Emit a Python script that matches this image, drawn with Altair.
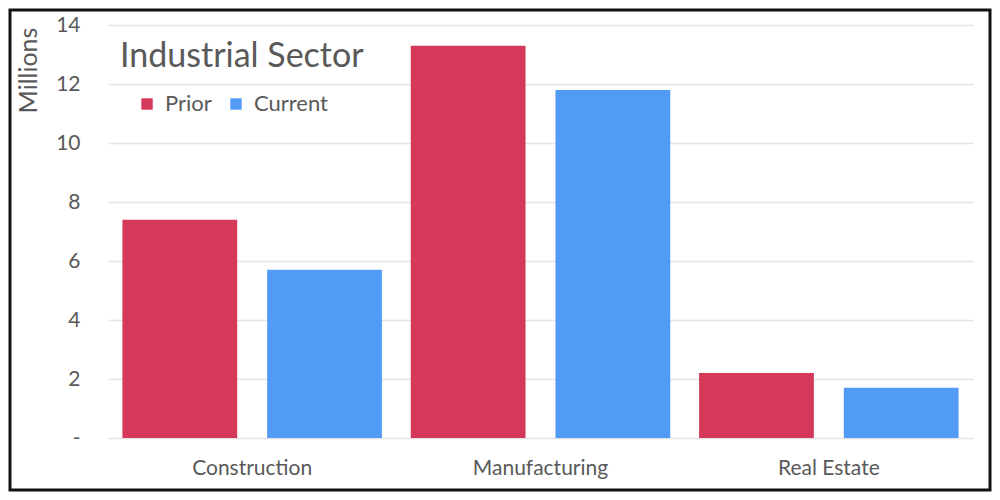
import altair as alt
import pandas as pd

categories = ["Construction", "Manufacturing", "Real Estate"]
series = ["Prior", "Current"]
prior = [7.4, 13.3, 2.2]
current = [5.7, 11.8, 1.7]
y_ticks = [0, 2, 4, 6, 8, 10, 12, 14]

rows = []
for c, p, q in zip(categories, prior, current):
    rows.append({"Sector": c, "Period": "Prior", "Value": p})
    rows.append({"Sector": c, "Period": "Current", "Value": q})
df = pd.DataFrame(rows)

FONT = "Lato"
GRAY = "#595959"

bars = alt.Chart(df).mark_bar().encode(
    x=alt.X("Sector:N", sort=categories,
            scale=alt.Scale(paddingInner=0.1, paddingOuter=0.05),
            axis=alt.Axis(title=None, labelAngle=0, labelFontSize=21, labelColor=GRAY,
                          labelFont=FONT, ticks=False, domain=False, labelPadding=19,
                          grid=False)),
    xOffset=alt.XOffset("Period:N", sort=series,
                        scale=alt.Scale(paddingInner=0.207, paddingOuter=0)),
    y=alt.Y("Value:Q", scale=alt.Scale(domain=[0, 14], nice=False),
            axis=alt.Axis(values=y_ticks, title="Millions",
                          labelExpr="datum.value == 0 ? '-' : datum.label",
                          labelFontSize=21, labelColor=GRAY, labelFont=FONT,
                          labelPadding=28, ticks=False, domain=False,
                          gridColor="#E3E3E3", gridWidth=1.5,
                          titleFontSize=25, titleColor=GRAY, titleFont=FONT,
                          titleFontWeight="normal", titleAngle=-90,
                          titleX=-80, titleY=45, titleAlign="center",
                          titleBaseline="middle")),
    color=alt.Color("Period:N", sort=series,
                    scale=alt.Scale(domain=series, range=["#D5395A", "#529BF5"]),
                    legend=alt.Legend(title=None, orient="none", legendX=28, legendY=68,
                                      direction="horizontal", symbolType="square",
                                      symbolSize=130, symbolStrokeWidth=0,
                                      labelFontSize=22, labelColor=GRAY, labelFont=FONT,
                                      columnPadding=13, labelOffset=7)),
)

border = alt.Chart(pd.DataFrame({"a": [0]})).mark_rect(
    fill=None, stroke="#111111", strokeWidth=3
).encode(
    x=alt.value(-98), x2=alt.value(882), y=alt.value(-15), y2=alt.value(465)
)

chart = alt.layer(border, bars).properties(
    width=865, height=413,
    view=alt.ViewBackground(stroke="transparent", strokeWidth=0),
    title=alt.TitleParams("Industrial Sector", anchor="start", frame="group",
                          fontSize=34, font=FONT, color=GRAY, fontWeight="normal",
                          dx=12, dy=69),
    padding={"left": 100, "top": 17, "right": 19, "bottom": 54},
    autosize=alt.AutoSizeParams(type="none"),
).configure(background="white").configure_view(stroke="transparent", strokeWidth=0)

chart.save("out.html", embed_options={"renderer": "svg", "actions": False})
